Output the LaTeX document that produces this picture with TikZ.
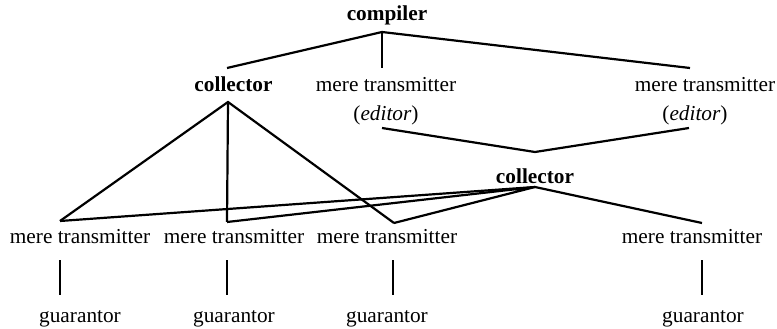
\documentclass[tikz,border=0pt]{standalone}
\usepackage{fontspec}
\setmainfont{Liberation Serif}
\begin{document}
\begin{tikzpicture}[x=1pt,y=-1pt,
  lbl/.style={anchor=base,inner sep=0pt,font=\fontsize{21.3}{25}\selectfont},
  blbl/.style={lbl,font=\fontsize{21.3}{25}\selectfont\bfseries},
  conn/.style={line width=2.2pt,line join=miter}]
\useasboundingbox (0,0) rectangle (777,329);
% text nodes
\node[blbl] (comp) at (387,21) {compiler};
\node[blbl] (colA) at (233.5,92) {collector};
\node[lbl] (mtA) at (386,92) {mere transmitter};
\node[lbl] (edA) at (386,121) {(\textit{editor})};
\node[lbl] (mtB) at (705,92) {mere transmitter};
\node[lbl] (edB) at (695,121) {(\textit{editor})};
\node[blbl] (colB) at (535,183) {collector};
\node[lbl] (m1) at (80,243) {mere transmitter};
\node[lbl] (m2) at (234,243) {mere transmitter};
\node[lbl] (m3) at (387,243) {mere transmitter};
\node[lbl] (m4) at (692,243) {mere transmitter};
\node[lbl] (g1) at (80,322) {guarantor};
\node[lbl] (g2) at (234,322) {guarantor};
\node[lbl] (g3) at (387,322) {guarantor};
\node[lbl] (g4) at (703,322) {guarantor};
% connector points
\coordinate (compB) at (382,32);
\coordinate (colAT) at (227,68);
\coordinate (mtAT) at (382,68);
\coordinate (mtBT) at (690,68);
\coordinate (colAB) at (228,102);
\coordinate (edAB) at (382,128);
\coordinate (edBB) at (689,128);
\coordinate (colBT) at (535,152);
\coordinate (colBB) at (535,187);
\coordinate (m1T) at (60,221);
\coordinate (m2T) at (227,222);
\coordinate (m3T) at (394,223);
\coordinate (m4T) at (702,223);
\coordinate (m1B) at (60,260);
\coordinate (m2B) at (227,260);
\coordinate (m3B) at (393,260);
\coordinate (m4B) at (702,260);
\coordinate (g1T) at (60,295);
\coordinate (g2T) at (227,295);
\coordinate (g3T) at (393,295);
\coordinate (g4T) at (702,295);
% connectors
\draw[conn] (colAT) -- (compB) -- (mtBT);
\draw[conn] (compB) -- (mtAT);
\draw[conn] (m1T) -- (colAB) -- (m3T);
\draw[conn] (colAB) -- (m2T);
\draw[conn] (edAB) -- (colBT) -- (edBB);
\draw[conn] (m1T) -- (colBB) -- (m4T);
\draw[conn] (m2T) -- (colBB) -- (m3T);
\draw[conn] (m1B) -- (g1T);
\draw[conn] (m2B) -- (g2T);
\draw[conn] (m3B) -- (g3T);
\draw[conn] (m4B) -- (g4T);
\end{tikzpicture}
\end{document}
